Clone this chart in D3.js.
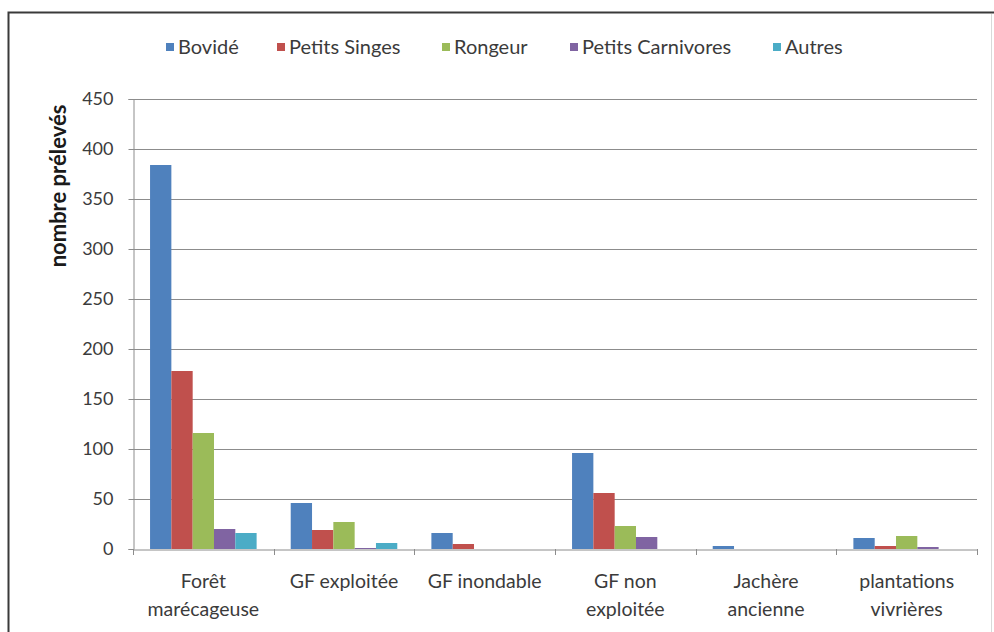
<!DOCTYPE html>
<html>
<head>
<meta charset="utf-8">
<script src="https://cdn.jsdelivr.net/npm/d3@7"></script>
<style>
  html, body { margin: 0; padding: 0; background: #fff; }
  svg { display: block; font-family: Lato, "Open Sans", sans-serif; }
</style>
</head>
<body>
<svg id="chart" width="994" height="632"></svg>
<script>
// Habitat categories (x axis), each label split into lines
const categories = ["Forêt marécageuse", "GF exploitée", "GF inondable", "GF non exploitée", "Jachère ancienne", "plantations vivrières"];
const categoryLines = [["Forêt", "marécageuse"], ["GF exploitée"], ["GF inondable"], ["GF non", "exploitée"], ["Jachère", "ancienne"], ["plantations", "vivrières"]];

// Animal groups (series)
const series = ["Bovidé", "Petits Singes", "Rongeur", "Petits Carnivores", "Autres"];
const colors = ["#4F81BD", "#C0504D", "#9BBB59", "#8064A2", "#4BACC6"];

// Counts per series, one value per habitat category
const bovide       = [384, 46, 16, 96, 3, 11];
const petitsSinges = [178, 19, 5, 56, 0, 3];
const rongeur      = [116, 27, 0, 23, 0, 13];
const carnivores   = [20, 1, 0, 12, 0, 2];
const autres       = [16, 6, 0, 0, 0, 0];
const seriesValues = [bovide, petitsSinges, rongeur, carnivores, autres];

const yTicks = [0, 50, 100, 150, 200, 250, 300, 350, 400, 450];
const yTitle = "nombre prélevés";

const svg = d3.select("#chart");

// Outer chart frame
svg.append("rect")
  .attr("x", 8.5).attr("y", 12.5)
  .attr("width", 1000).attr("height", 640)
  .attr("fill", "#fff")
  .attr("stroke", "#3a3a3a").attr("stroke-width", 2);
svg.append("line")
  .attr("x1", 991.5).attr("x2", 991.5).attr("y1", 14).attr("y2", 632)
  .attr("stroke", "#d9d9d9");

const plot = { left: 133, right: 977, top: 99, bottom: 549 };

const x0 = d3.scaleBand().domain(categories).range([plot.left, plot.right]).padding(0);
const x1 = d3.scaleBand().domain(series).range([0, x0.bandwidth()]).paddingInner(0).paddingOuter(0.8);
const y = d3.scaleLinear().domain([0, 450]).range([plot.bottom, plot.top]);

// Horizontal gridlines
svg.append("g")
  .selectAll("line")
  .data(yTicks.filter(d => d > 0))
  .join("line")
  .attr("x1", plot.left).attr("x2", plot.right)
  .attr("y1", d => Math.round(y(d)) + 0.5).attr("y2", d => Math.round(y(d)) + 0.5)
  .attr("stroke", "#8c8c8c").attr("stroke-width", 1);

// Y axis
const yAxis = svg.append("g")
  .attr("transform", `translate(${plot.left + 0.5},0)`)
  .call(d3.axisLeft(y).tickValues(yTicks).tickSize(5).tickPadding(15).tickFormat(d3.format("d")));
yAxis.select(".domain").attr("stroke", "#8c8c8c");
yAxis.selectAll(".tick line").attr("stroke", "#8c8c8c");
yAxis.selectAll(".tick text")
  .attr("fill", "#3b3b3b")
  .style("font-size", "18px")
  .style("font-family", "Lato, sans-serif");

// Bars
const groups = svg.append("g")
  .selectAll("g")
  .data(series)
  .join("g")
  .attr("fill", (d, i) => colors[i]);

groups.selectAll("rect")
  .data((s, si) => categories.map((c, ci) => ({ s, c, v: seriesValues[si][ci] })))
  .join("rect")
  .attr("x", d => x0(d.c) + x1(d.s))
  .attr("width", x1.bandwidth())
  .attr("y", d => y(d.v))
  .attr("height", d => y(0) - y(d.v));

// X axis (drawn over bars' bases)
const xAxis = svg.append("g")
  .attr("transform", `translate(0,${Math.round(plot.bottom) + 0.5})`)
  .call(d3.axisBottom(x0).tickSize(0).tickFormat(""));
xAxis.select(".domain").attr("stroke", "#8c8c8c");

// Category tick marks at band boundaries
svg.append("g")
  .selectAll("line")
  .data(categories.map(c => x0(c)).concat([x0.range()[1]]))
  .join("line")
  .attr("x1", d => Math.round(d) + 0.5).attr("x2", d => Math.round(d) + 0.5)
  .attr("y1", plot.bottom).attr("y2", plot.bottom + 6)
  .attr("stroke", "#8c8c8c");

// Category labels
const catLabels = svg.append("g")
  .selectAll("text")
  .data(categories)
  .join("text")
  .attr("text-anchor", "middle")
  .attr("fill", "#3b3b3b")
  .style("font-size", "19.5px");
catLabels.each(function (c, i) {
  const t = d3.select(this);
  categoryLines[i].forEach((line, li) => {
    t.append("tspan")
      .attr("x", x0(c) + x0.bandwidth() / 2)
      .attr("y", 588 + li * 28)
      .text(line);
  });
});

// Y axis title
svg.append("text")
  .attr("transform", "translate(66,186) rotate(-90)")
  .attr("text-anchor", "middle")
  .attr("fill", "#1a1a1a")
  .style("font-size", "22px")
  .style("font-weight", "bold")
  .text(yTitle);

// Legend: swatch + label at fixed slots across the top
const legendSlots = [166, 277, 442, 570, 773];
const legend = svg.append("g")
  .selectAll("g")
  .data(series)
  .join("g")
  .attr("transform", (d, i) => `translate(${legendSlots[i]},47)`);
legend.append("rect")
  .attr("x", 0).attr("y", -4).attr("width", 8).attr("height", 8)
  .attr("fill", (d, i) => colors[i]);
legend.append("text")
  .attr("x", 12).attr("y", 6.5)
  .attr("fill", "#3b3b3b")
  .style("font-size", "20px")
  .text(d => d);
</script>
</body>
</html>
